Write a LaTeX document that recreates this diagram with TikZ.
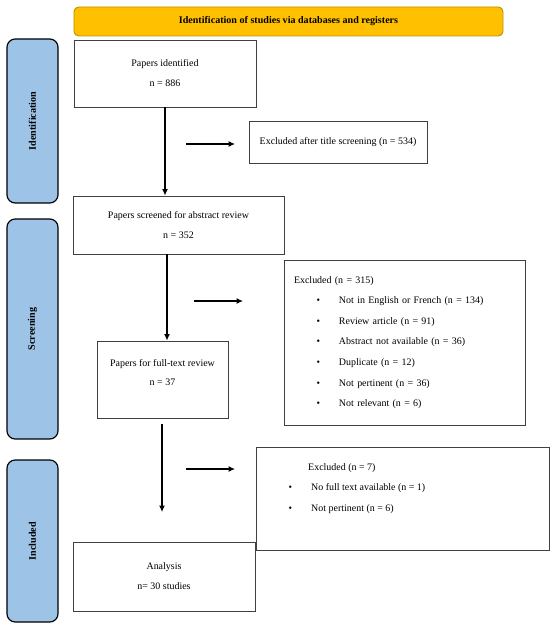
\documentclass[tikz,border=0pt]{standalone}
\usepackage{fontspec}
\setmainfont{Liberation Serif}
\usepackage{tikz}
\usetikzlibrary{arrows.meta,positioning}

\definecolor{bannerfill}{HTML}{FFC000}
\definecolor{bannerline}{HTML}{BF9000}
\definecolor{phasefill}{HTML}{9DC3E6}
\definecolor{boxline}{HTML}{404040}

% puce + texte dans les listes d'exclusion
\newcommand{\exclitem}[2]{\hspace*{#1}\makebox[0.675cm][l]{\textbullet}#2}

\begin{document}
\begin{tikzpicture}[x=0.03cm,y=-0.03cm,
  font=\fontsize{8.5}{10}\selectfont,
  box/.style={draw=boxline,line width=0.8pt,rectangle,align=center,inner sep=0pt},
  phase/.style={draw,line width=1pt,fill=phasefill,rounded corners=7pt,rotate=90,
    minimum height=1.53cm,font=\fontsize{8.6}{10}\selectfont\bfseries},
  flow/.style={-{Latex[length=5.5pt,width=5pt]},line width=0.9pt}
]

% Cadre
\useasboundingbox (0,0) rectangle (550,627);

% Bandeau du haut
\node[draw=bannerline,line width=0.8pt,fill=bannerfill,rounded corners=4pt,
minimum width=12.87cm,minimum height=0.87cm,font=\fontsize{8.6}{10}\selectfont\bfseries]
(banner) at (288.5,21.5) {Identification of studies via databases and registers};

% Phases à gauche
\node[phase,minimum width=4.92cm] (identphase) at (32.5,121) {Identification};
\node[phase,minimum width=6.6cm] (screenphase) at (32.5,329) {Screening};
\node[phase,minimum width=4.86cm] (inclphase) at (32.5,541) {Included};

% Boîtes principales
\node[box,minimum width=5.46cm,minimum height=2.01cm]
(identified) at (165,73.5) {Papers identified\\[7pt] n = 886};

\node[box,minimum width=6.33cm,minimum height=1.74cm]
(screened) at (178.5,225) {Papers screened for abstract review\\[7pt] n = 352};

\node[box,minimum width=3.93cm,minimum height=2.31cm]
(fulltext) at (162.5,379.5) {};
\node[align=center,inner sep=0pt] (fulltexttxt) at (162.5,372.5)
{Papers for full-text review\\[7pt] n = 37};

\node[box,minimum width=5.46cm,minimum height=2.07cm]
(analysis) at (164,576.5) {Analysis\\[7pt] n= 30 studies};

% Boîtes d'exclusion
\node[box,minimum width=5.34cm,minimum height=1.26cm]
(extitle) at (338,142) {Excluded after title screening (n = 534)};

\node[box,minimum width=7.23cm,minimum height=4.95cm,inner xsep=0.3cm,
text width=6.63cm,align=left]
(exabstract) at (404.5,342.5)
{Excluded (n = 315)\\[7.6pt]
\exclitem{0.675cm}{Not in English or French (n = 134)}\\[7.6pt]
\exclitem{0.675cm}{Review article (n = 91)}\\[7.6pt]
\exclitem{0.675cm}{Abstract not available (n = 36)}\\[7.6pt]
\exclitem{0.675cm}{Duplicate (n = 12)}\\[7.6pt]
\exclitem{0.675cm}{Not pertinent (n = 36)}\\[7.6pt]
\exclitem{0.675cm}{Not relevant (n = 6)}};

\node[box,minimum width=8.79cm,minimum height=3.09cm]
(exfull) at (402.5,498.5) {};
\node[anchor=north west,align=left,inner sep=0pt] (exfulltxt) at (288.5,463)
{\hspace*{0.585cm}Excluded (n = 7)\\[7.6pt]
\exclitem{0cm}{No full text available (n = 1)}\\[7.6pt]
\exclitem{0cm}{Not pertinent (n = 6)}};

% Flèches
\coordinate (v2) at (167,254);
\coordinate (v3a) at (162,424);
\coordinate (v3b) at (162,512);
\draw[flow] (identified.south) -- (identified.south |- screened.north);
\draw[flow] (v2) -- (v2 |- fulltext.north);
\draw[flow] (v3a) -- (v3b);

\coordinate (h1a) at (186,144);
\coordinate (h1b) at (235,144);
\coordinate (h2a) at (194,301);
\coordinate (h2b) at (243,301);
\coordinate (h3a) at (186,469);
\coordinate (h3b) at (235,469);
\draw[flow] (h1a) -- (h1b);
\draw[flow] (h2a) -- (h2b);
\draw[flow] (h3a) -- (h3b);

\end{tikzpicture}
\end{document}
